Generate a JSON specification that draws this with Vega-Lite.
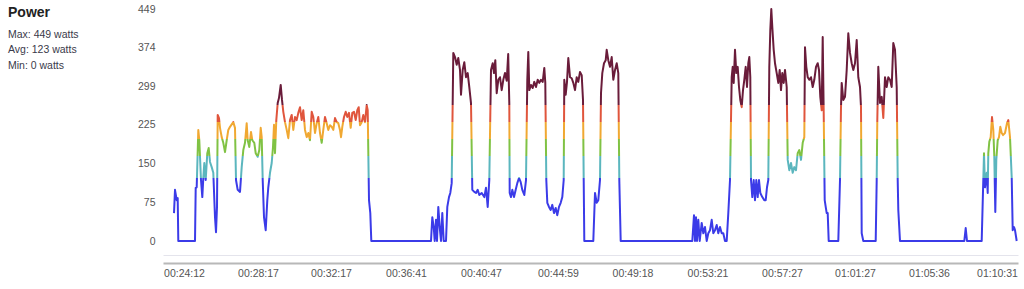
{
  "$schema": "https://vega.github.io/schema/vega-lite/v6.json",
  "width": 855,
  "height": 232,
  "autosize": "none",
  "padding": {"left": 163, "top": 9, "right": 6, "bottom": 48},
  "background": "white",
  "title": {
    "text": "Power",
    "subtitle": ["Max: 449 watts", "Avg: 123 watts", "Min: 0 watts"],
    "anchor": "start",
    "frame": "group",
    "dx": -155,
    "dy": 71,
    "font": "Liberation Sans",
    "fontSize": 14,
    "fontWeight": "bold",
    "color": "#222222",
    "subtitleFont": "Liberation Sans",
    "subtitleFontSize": 10.5,
    "subtitleColor": "#3a3a4a",
    "subtitleLineHeight": 15.5,
    "subtitlePadding": 10
  },
  "config": {
    "view": {"stroke": null},
    "axis": {"labelFont": "Liberation Sans", "labelFontSize": 10.5, "labelColor": "#555555", "labelOverlap": false}
  },
  "data": {
    "values": [
      {"s":11,"w":54},{"s":12,"w":99},{"s":13.7,"w":79},{"s":14.7,"w":83},{"s":15.3,"w":0},{"s":32,"w":0},
      {"s":32.7,"w":103},{"s":33.7,"w":104},{"s":35.3,"w":215},{"s":36.3,"w":195},{"s":38,"w":118},{"s":39.3,"w":85},
      {"s":40.3,"w":122},{"s":41.3,"w":151},{"s":42.7,"w":118},{"s":44.3,"w":170},{"s":45.7,"w":180},{"s":47,"w":153},
      {"s":48.7,"w":143},{"s":50.3,"w":132},{"s":52,"w":46},{"s":53,"w":17},{"s":54,"w":66},{"s":54.7,"w":244},
      {"s":56,"w":238},{"s":57,"w":219},{"s":58.7,"w":201},{"s":60.3,"w":190},{"s":62,"w":172},{"s":63.7,"w":195},
      {"s":65.3,"w":215},{"s":67,"w":221},{"s":70.3,"w":230},{"s":72,"w":219},{"s":73,"w":118},{"s":74.7,"w":99},
      {"s":77,"w":95},{"s":78.7,"w":143},{"s":80.3,"w":176},{"s":82,"w":190},{"s":83.7,"w":228},{"s":84.7,"w":195},
      {"s":86.3,"w":182},{"s":88,"w":211},{"s":89.3,"w":195},{"s":91.3,"w":190},{"s":92.7,"w":170},{"s":94.7,"w":163},
      {"s":96.3,"w":176},{"s":97.7,"w":219},{"s":98.7,"w":201},{"s":99.7,"w":118},{"s":101,"w":46},{"s":102.7,"w":21},
      {"s":104.3,"w":79},{"s":105.3,"w":104},{"s":107,"w":132},{"s":108.7,"w":151},{"s":110,"w":182},{"s":111,"w":225},
      {"s":112,"w":170},{"s":113.3,"w":234},{"s":114.7,"w":267},{"s":116,"w":277},{"s":117.7,"w":302},{"s":119,"w":273},
      {"s":120.3,"w":250},{"s":122,"w":230},{"s":123.7,"w":215},{"s":125.3,"w":199},{"s":127,"w":234},{"s":128.7,"w":244},
      {"s":130.3,"w":215},{"s":132,"w":240},{"s":133.7,"w":234},{"s":135.3,"w":248},{"s":137,"w":259},{"s":138.7,"w":234},
      {"s":140.3,"w":253},{"s":142,"w":215},{"s":143.7,"w":201},{"s":145.3,"w":209},{"s":147,"w":195},{"s":148.7,"w":250},
      {"s":150.3,"w":240},{"s":152,"w":209},{"s":153.7,"w":228},{"s":155.3,"w":240},{"s":157,"w":209},{"s":158.7,"w":190},
      {"s":160.3,"w":215},{"s":162,"w":240},{"s":163.7,"w":228},{"s":165.3,"w":215},{"s":167,"w":224},{"s":168.7,"w":221},
      {"s":170.3,"w":215},{"s":172,"w":238},{"s":173.7,"w":230},{"s":175.3,"w":228},{"s":177,"w":215},{"s":178,"w":201},
      {"s":179.3,"w":221},{"s":181,"w":240},{"s":182.7,"w":250},{"s":184.3,"w":240},{"s":186,"w":248},{"s":187.7,"w":219},
      {"s":189.3,"w":248},{"s":191,"w":250},{"s":192.7,"w":234},{"s":194.3,"w":253},{"s":195.7,"w":259},{"s":197,"w":224},
      {"s":198.7,"w":230},{"s":200.3,"w":244},{"s":202,"w":230},{"s":203.7,"w":263},{"s":204.7,"w":253},{"s":206,"w":79},
      {"s":207.3,"w":54},{"s":208.3,"w":0},{"s":268,"w":0},{"s":269.3,"w":46},{"s":270.7,"w":27},{"s":271.7,"w":0},
      {"s":273,"w":41},{"s":274,"w":0},{"s":275.3,"w":66},{"s":276.7,"w":27},{"s":278,"w":0},{"s":279.3,"w":54},
      {"s":280.7,"w":0},{"s":283,"w":0},{"s":284.3,"w":66},{"s":286,"w":85},{"s":287.3,"w":93},{"s":288.7,"w":112},
      {"s":290.3,"w":364},{"s":292,"w":356},{"s":293.7,"w":341},{"s":295.3,"w":354},{"s":297,"w":331},{"s":298,"w":283},
      {"s":299.7,"w":331},{"s":301.3,"w":346},{"s":303,"w":317},{"s":304.7,"w":325},{"s":306.3,"w":298},{"s":308,"w":267},
      {"s":309.3,"w":99},{"s":311.3,"w":95},{"s":313,"w":93},{"s":314.7,"w":99},{"s":316.3,"w":89},{"s":318.7,"w":93},
      {"s":321.3,"w":85},{"s":323,"w":103},{"s":324.7,"w":66},{"s":326.3,"w":118},{"s":328,"w":331},{"s":329.7,"w":344},
      {"s":331,"w":325},{"s":332.3,"w":350},{"s":333.7,"w":286},{"s":335.3,"w":312},{"s":337,"w":317},{"s":338.7,"w":292},
      {"s":340.3,"w":312},{"s":342,"w":325},{"s":343.7,"w":310},{"s":345.2,"w":362},{"s":346.3,"w":267},{"s":346.7,"w":93},
      {"s":348,"w":85},{"s":349.3,"w":99},{"s":351,"w":85},{"s":352.7,"w":99},{"s":354.3,"w":112},{"s":356,"w":122},
      {"s":357.7,"w":114},{"s":359.3,"w":99},{"s":361.3,"w":89},{"s":363,"w":118},{"s":364.3,"w":312},{"s":365.3,"w":366},
      {"s":366.3,"w":292},{"s":368,"w":302},{"s":369.7,"w":296},{"s":371.3,"w":308},{"s":373,"w":298},{"s":374.7,"w":312},
      {"s":376.3,"w":306},{"s":378,"w":312},{"s":379.7,"w":308},{"s":381.3,"w":335},{"s":382.3,"w":306},{"s":383.3,"w":118},
      {"s":384.3,"w":74},{"s":386,"w":66},{"s":387.7,"w":60},{"s":389.3,"w":70},{"s":391,"w":54},{"s":392.7,"w":64},
      {"s":394.3,"w":50},{"s":396,"w":66},{"s":397.7,"w":74},{"s":399.3,"w":85},{"s":400.7,"w":118},{"s":401.3,"w":312},
      {"s":402.7,"w":283},{"s":404,"w":308},{"s":405.3,"w":354},{"s":407,"w":317},{"s":408.7,"w":315},{"s":410.3,"w":306},
      {"s":412,"w":292},{"s":413.7,"w":317},{"s":415.3,"w":308},{"s":417,"w":327},{"s":418.7,"w":321},{"s":420,"w":273},
      {"s":420.7,"w":118},{"s":421.3,"w":0},{"s":430.3,"w":0},{"s":432,"w":93},{"s":433.7,"w":74},{"s":435.3,"w":79},
      {"s":437,"w":118},{"s":438,"w":286},{"s":439.3,"w":325},{"s":441,"w":344},{"s":442.7,"w":350},{"s":443.7,"w":370},
      {"s":445.3,"w":350},{"s":447,"w":337},{"s":448.7,"w":356},{"s":450.3,"w":312},{"s":452,"w":331},{"s":453.7,"w":344},
      {"s":455.3,"w":325},{"s":456.3,"w":118},{"s":457.7,"w":0},{"s":529.3,"w":0},{"s":531,"w":50},{"s":532,"w":0},
      {"s":533,"w":46},{"s":534,"w":0},{"s":535.3,"w":41},{"s":536.7,"w":0},{"s":538.7,"w":35},{"s":540.3,"w":15},
      {"s":542,"w":27},{"s":543.7,"w":0},{"s":545.3,"w":15},{"s":547,"w":21},{"s":548.7,"w":41},{"s":550.3,"w":15},
      {"s":552,"w":21},{"s":553.7,"w":31},{"s":555.3,"w":15},{"s":557,"w":27},{"s":558.7,"w":15},{"s":560.3,"w":15},
      {"s":562,"w":0},{"s":563.7,"w":0},{"s":565.3,"w":54},{"s":567,"w":118},{"s":568.7,"w":317},{"s":569.7,"w":337},
      {"s":570.7,"w":306},{"s":572,"w":370},{"s":573.3,"w":325},{"s":574.7,"w":337},{"s":576,"w":298},{"s":577.3,"w":273},
      {"s":578.7,"w":259},{"s":580,"w":292},{"s":581.3,"w":312},{"s":582.7,"w":337},{"s":584,"w":298},{"s":585.3,"w":344},
      {"s":586.3,"w":356},{"s":587.3,"w":317},{"s":588,"w":118},{"s":589.3,"w":85},{"s":590.7,"w":118},{"s":592,"w":79},
      {"s":593.3,"w":118},{"s":594.7,"w":85},{"s":596,"w":118},{"s":597.3,"w":93},{"s":599.3,"w":85},{"s":601.3,"w":79},
      {"s":602.7,"w":79},{"s":604,"w":104},{"s":605.3,"w":118},{"s":606.3,"w":337},{"s":607.3,"w":408},{"s":608.3,"w":449},
      {"s":609.3,"w":414},{"s":610.7,"w":370},{"s":612,"w":344},{"s":613.7,"w":325},{"s":615.3,"w":306},{"s":616.7,"w":331},
      {"s":618,"w":292},{"s":619.3,"w":325},{"s":620.7,"w":306},{"s":622,"w":331},{"s":623.7,"w":298},{"s":624.7,"w":157},
      {"s":626.3,"w":137},{"s":628,"w":151},{"s":629.7,"w":132},{"s":631.3,"w":143},{"s":633,"w":137},{"s":634.7,"w":170},
      {"s":636.3,"w":176},{"s":638,"w":157},{"s":639.7,"w":190},{"s":641.3,"w":201},{"s":642,"w":375},{"s":643.3,"w":337},
      {"s":644.7,"w":317},{"s":646.3,"w":312},{"s":648,"w":317},{"s":649.7,"w":298},{"s":651.3,"w":312},{"s":653,"w":337},
      {"s":654.7,"w":344},{"s":656,"w":331},{"s":657.3,"w":279},{"s":658.7,"w":253},{"s":659.7,"w":395},{"s":660.7,"w":248},
      {"s":661.7,"w":79},{"s":662.7,"w":66},{"s":663.7,"w":54},{"s":664.7,"w":54},{"s":665.7,"w":0},{"s":675.3,"w":0},
      {"s":677,"w":118},{"s":678,"w":259},{"s":678.7,"w":306},{"s":680.3,"w":273},{"s":682,"w":279},{"s":683.7,"w":331},
      {"s":685.3,"w":402},{"s":687,"w":364},{"s":688.7,"w":344},{"s":690.3,"w":331},{"s":692,"w":344},{"s":693.7,"w":389},
      {"s":695.3,"w":317},{"s":697,"w":298},{"s":698,"w":259},{"s":698.7,"w":15},{"s":700.3,"w":0},{"s":712.7,"w":0},
      {"s":713.7,"w":118},{"s":714.3,"w":234},{"s":715.3,"w":337},{"s":717,"w":267},{"s":718.7,"w":279},{"s":720.3,"w":238},
      {"s":722,"w":317},{"s":723.7,"w":298},{"s":725.3,"w":317},{"s":727,"w":312},{"s":728.7,"w":298},{"s":730.3,"w":383},
      {"s":732,"w":370},{"s":733.7,"w":298},{"s":734.7,"w":118},{"s":735.3,"w":60},{"s":737,"w":0},{"s":801.3,"w":0},
      {"s":802.7,"w":25},{"s":804,"w":0},{"s":818.7,"w":0},{"s":820.3,"w":118},{"s":821,"w":170},{"s":822,"w":104},
      {"s":823.7,"w":132},{"s":824.7,"w":93},{"s":825.3,"w":170},{"s":826.3,"w":192},{"s":827.7,"w":201},{"s":829,"w":240},
      {"s":830.3,"w":215},{"s":831.3,"w":163},{"s":832.3,"w":56},{"s":833.3,"w":157},{"s":834.7,"w":195},{"s":836,"w":201},
      {"s":837.3,"w":221},{"s":838.7,"w":209},{"s":840,"w":205},{"s":842,"w":209},{"s":844,"w":228},{"s":845.3,"w":234},
      {"s":847,"w":201},{"s":848.7,"w":124},{"s":849.7,"w":21},{"s":851,"w":27},{"s":852,"w":21},{"s":853.7,"w":0}
    ]
  },
  "layer": [
    {
      "mark": {
        "type": "line",
        "strokeWidth": 2,
        "strokeJoin": "round",
        "stroke": {
          "gradient": "linear", "x1": 0, "y1": 1, "x2": 0, "y2": 0,
          "stops": [
            {"offset": 0, "color": "#3b3be8"},
            {"offset": 0.2695, "color": "#3b3be8"},
            {"offset": 0.2695, "color": "#5bb6be"},
            {"offset": 0.3675, "color": "#5bb6be"},
            {"offset": 0.3675, "color": "#80c244"},
            {"offset": 0.441, "color": "#80c244"},
            {"offset": 0.441, "color": "#f0a832"},
            {"offset": 0.5145, "color": "#f0a832"},
            {"offset": 0.5145, "color": "#e0553c"},
            {"offset": 0.588, "color": "#e0553c"},
            {"offset": 0.588, "color": "#6a1c3a"},
            {"offset": 1, "color": "#6a1c3a"}
          ]
        }
      },
      "encoding": {
        "x": {
          "field": "s", "type": "quantitative",
          "scale": {"domain": [0, 855], "nice": false, "zero": false},
          "axis": {
            "orient": "bottom",
            "offset": 22, "ticks": false, "grid": false, "title": null,
            "domainColor": "#b8b8b8", "domainWidth": 2, "labelPadding": 5, "labelFlush": false, "labelOverlap": false,
            "values": [21, 95, 168, 243, 318, 395, 469.5, 544.5, 619, 692, 766, 834],
            "labelExpr": "['00:24:12','00:28:17','00:32:17','00:36:41','00:40:47','00:44:59','00:49:18','00:53:21','00:57:27','01:01:27','01:05:36','01:10:31'][indexof([21, 95, 168, 243, 318, 395, 469.5, 544.5, 619, 692, 766, 834], datum.value)]"
          }
        },
        "y": {
          "field": "w", "type": "quantitative",
          "scale": {"domain": [0, 449], "nice": false},
          "axis": {
            "orient": "left",
            "values": [0, 75, 150, 225, 299, 374, 449],
            "domain": false, "ticks": false, "grid": false, "title": null, "labelPadding": 8,
            "labelOverlap": false
          }
        }
      }
    },
    {
      "mark": {"type": "rule", "opacity": 0},
      "encoding": {
        "x": {
          "field": "s", "type": "quantitative",
          "scale": {"domain": [0, 855], "nice": false, "zero": false},
          "axis": {"orient": "bottom", "offset": 14, "labels": false, "ticks": false, "grid": false, "title": null, "domainColor": "#e4e4ec", "domainWidth": 1}
        }
      }
    }
  ],
  "resolve": {"axis": {"x": "independent"}}
}
